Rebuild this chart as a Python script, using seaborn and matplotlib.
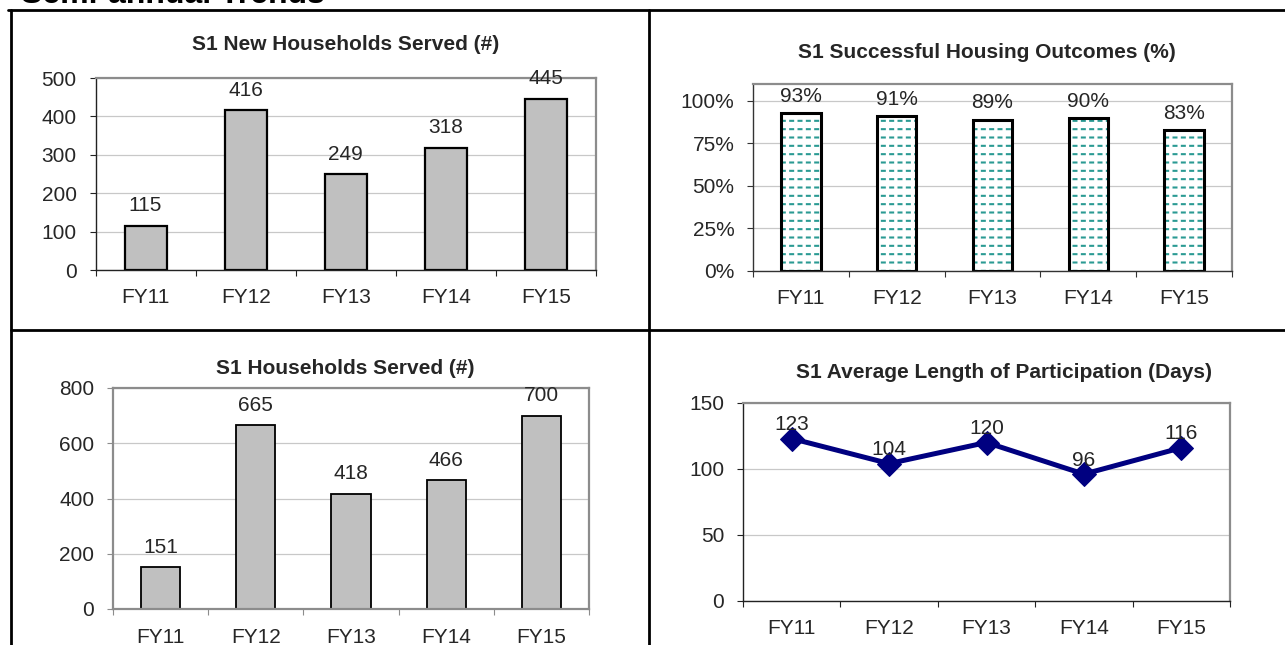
import numpy as np
import matplotlib
matplotlib.use("Agg")
import matplotlib.pyplot as plt
import seaborn as sns
from matplotlib.lines import Line2D
from matplotlib.patches import Rectangle
from matplotlib.ticker import FixedLocator, FixedFormatter, NullFormatter

# ---- data ----
years = ["FY11", "FY12", "FY13", "FY14", "FY15"]
new_households = [115, 416, 249, 318, 445]
success_pct = [93, 91, 89, 90, 83]
households = [151, 665, 418, 466, 700]
avg_days = [123, 104, 120, 96, 116]

W, H = 1285, 645
sns.set_theme(style="white")
plt.rcParams["font.family"] = ["Liberation Sans", "DejaVu Sans"]
plt.rcParams["hatch.linewidth"] = 1.5

TICK_FS = 15
TITLE_FS = 15
GRID = "#c8c8c8"
FRAME = "#8c8c8c"
TEAL = "#2a9a93"
TXT = "#262626"

fig = plt.figure(figsize=(W / 100, H / 100), dpi=100)
fig.patch.set_facecolor("white")


def rect(x0, y0, x1, y1):
    """Pixel box (top-left origin) -> figure-fraction axes rect."""
    return [x0 / W, 1 - y1 / H, (x1 - x0) / W, (y1 - y0) / H]


def fx(x):
    return x / W


def fy(y):
    return 1 - y / H


def style_axes(ax, ymax, yticks, ylabels, axis_color, axis_lw, xpad=13):
    ax.set_xlim(-0.5, 4.5)
    ax.set_ylim(0, ymax)
    ax.set_xlabel("")
    ax.set_ylabel("")
    ax.yaxis.set_major_locator(FixedLocator(yticks))
    ax.yaxis.set_major_formatter(FixedFormatter(ylabels))
    ax.xaxis.set_major_locator(FixedLocator(np.arange(-0.5, 5, 1)))
    ax.xaxis.set_major_formatter(NullFormatter())
    ax.xaxis.set_minor_locator(FixedLocator(np.arange(5)))
    ax.xaxis.set_minor_formatter(FixedFormatter(years))
    ax.tick_params(axis="x", which="major", bottom=True, length=4.5, width=0.8,
                   color=axis_color, direction="out")
    ax.tick_params(axis="x", which="minor", bottom=True, length=0, pad=xpad,
                   labelsize=TICK_FS, labelcolor=TXT)
    ax.tick_params(axis="y", which="major", left=True, length=4.5, width=0.8,
                   color=axis_color, direction="out", pad=9,
                   labelsize=TICK_FS, labelcolor=TXT)
    ax.yaxis.grid(True, color=GRID, linewidth=0.9)
    ax.xaxis.grid(False)
    ax.set_axisbelow(True)
    for side in ("top", "right"):
        ax.spines[side].set_color(FRAME)
        ax.spines[side].set_linewidth(1.6)
    for side in ("left", "bottom"):
        ax.spines[side].set_color(axis_color)
        ax.spines[side].set_linewidth(axis_lw)


def label_points(ax, values, texts, offset):
    for i, (v, t) in enumerate(zip(values, texts)):
        ax.annotate(t, (i, v), xytext=(0, offset), textcoords="offset points",
                    ha="center", va="center", fontsize=TICK_FS, color=TXT,
                    annotation_clip=False, zorder=10)


# ---- table frame ----
for (x0, y0, x1, y1) in [(8, 9.5, W, 9.5), (10.5, 9.5, 10.5, H),
                         (649, 9.5, 649, H), (10.5, 329.5, W, 329.5)]:
    fig.add_artist(Line2D([fx(x0), fx(x1)], [fy(y0), fy(y1)], color="black",
                          linewidth=2.0, transform=fig.transFigure))

fig.text(fx(21), fy(3), "Semi-annual Trends", fontsize=23, fontweight="bold",
         ha="left", va="baseline", color="black")

# ---- S1 New Households Served ----
ax1 = fig.add_axes(rect(95.5, 78, 596, 270))
sns.barplot(x=years, y=new_households, ax=ax1, color="#c0c0c0", saturation=1,
            width=0.42, edgecolor="black", linewidth=1.6)
style_axes(ax1, 500, [0, 100, 200, 300, 400, 500],
           ["0", "100", "200", "300", "400", "500"], "#222222", 1.0)
label_points(ax1, new_households, [str(v) for v in new_households], 14.5)
fig.text(fx(345.5), fy(45), "S1 New Households Served (#)", fontsize=TITLE_FS,
         fontweight="bold", ha="center", va="center")

# ---- S1 Successful Housing Outcomes ----
ax2 = fig.add_axes(rect(753, 84, 1232, 270.7))
sns.barplot(x=years, y=success_pct, ax=ax2, color="white", saturation=1,
            width=0.41, edgecolor=TEAL, linewidth=0, hatch="--")
for p in list(ax2.patches):
    cut = Rectangle(p.get_xy(), p.get_width(), p.get_height(),
                    facecolor="none", edgecolor="white", hatch="||",
                    linewidth=0, zorder=p.get_zorder() + 0.1)
    if hasattr(cut, "set_hatch_linewidth"):
        cut.set_hatch_linewidth(2.4)
    ax2.add_patch(cut)
    ax2.add_patch(Rectangle(p.get_xy(), p.get_width(), p.get_height(),
                            facecolor="none", edgecolor="black",
                            linewidth=2.2, zorder=p.get_zorder() + 0.2))
style_axes(ax2, 110, [0, 25, 50, 75, 100],
           ["0%", "25%", "50%", "75%", "100%"], "#333333", 1.0)
label_points(ax2, success_pct, [f"{v}%" for v in success_pct], 12)
fig.text(fx(987), fy(53), "S1 Successful Housing Outcomes (%)", fontsize=TITLE_FS,
         fontweight="bold", ha="center", va="center")

# ---- S1 Households Served ----
ax3 = fig.add_axes(rect(113, 388, 589, 609))
sns.barplot(x=years, y=households, ax=ax3, color="#c0c0c0", saturation=1,
            width=0.41, edgecolor="black", linewidth=1.3)
style_axes(ax3, 800, [0, 200, 400, 600, 800],
           ["0", "200", "400", "600", "800"], FRAME, 1.6, xpad=14)
label_points(ax3, households, [str(v) for v in households], 14.5)
fig.text(fx(345), fy(368), "S1 Households Served (#)", fontsize=TITLE_FS,
         fontweight="bold", ha="center", va="center")

# ---- S1 Average Length of Participation ----
ax4 = fig.add_axes(rect(743, 403, 1230, 600.5))
sns.lineplot(x=years, y=avg_days, ax=ax4, color="#000080", linewidth=3.6,
             marker="D", markersize=12, markeredgecolor="#000080", sort=False)
style_axes(ax4, 150, [0, 50, 100, 150], ["0", "50", "100", "150"], "#222222", 1.0)
label_points(ax4, avg_days, [str(v) for v in avg_days], 10)
fig.text(fx(1004), fy(372), "S1 Average Length of Participation (Days)",
         fontsize=TITLE_FS, fontweight="bold", ha="center", va="center")

fig.savefig("out.png", dpi=100, facecolor="white")
